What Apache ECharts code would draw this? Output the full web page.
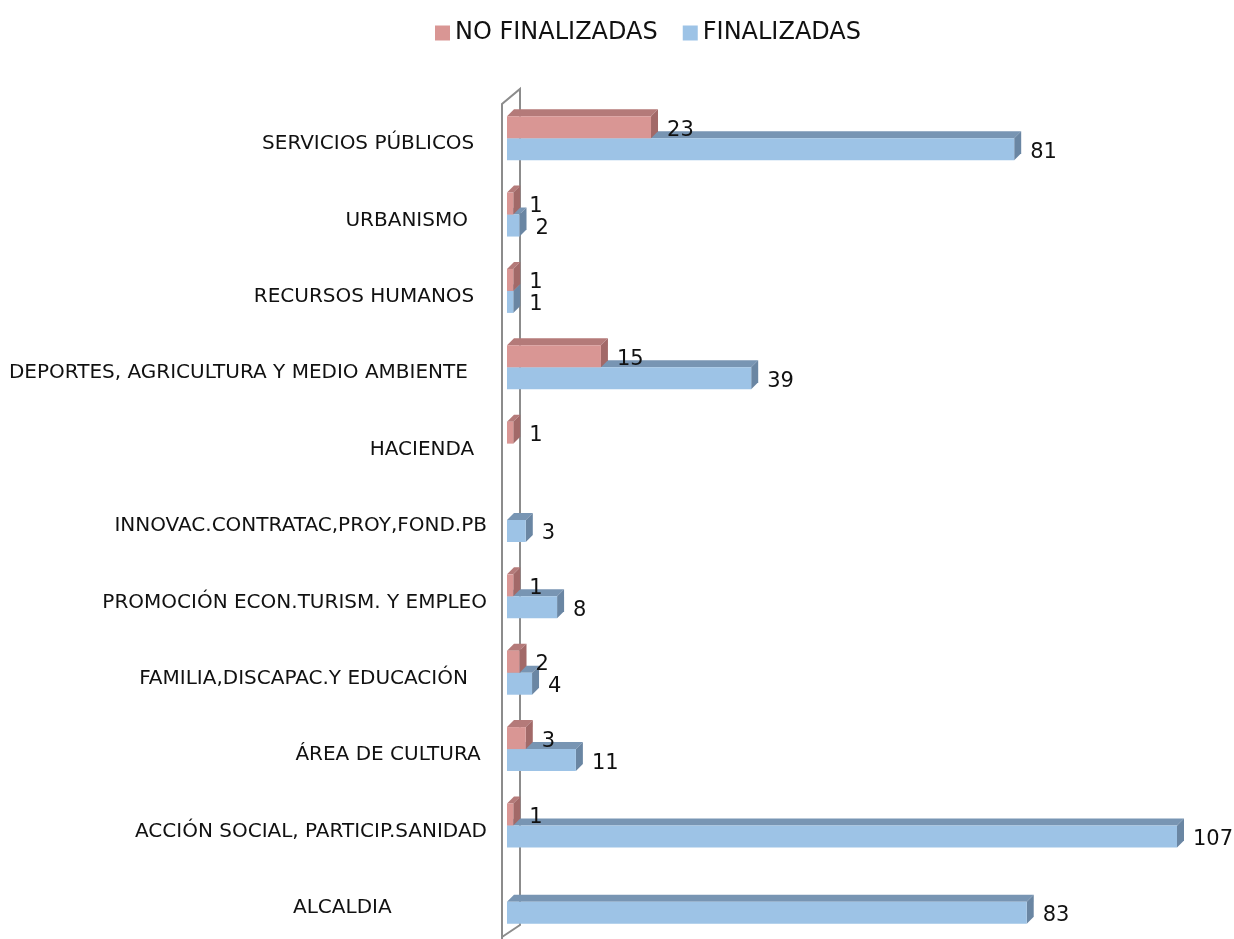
<!DOCTYPE html>
<html>
<head>
<meta charset="utf-8">
<title>Finalizadas / No finalizadas</title>
<script src="https://cdn.jsdelivr.net/npm/echarts@6/dist/echarts.min.js"></script>
<style>
    html, body { margin: 0; padding: 0; background: #fff; }
    #main { width: 1234px; height: 939px; }
</style>
</head>
<body>
<div id="main"></div>
<script>
/*datos start*/
// categorias de arriba a abajo (con los espacios finales del original)
let categorias = [
    'SERVICIOS PÚBLICOS  ',
    'URBANISMO   ',
    'RECURSOS HUMANOS  ',
    'DEPORTES, AGRICULTURA Y MEDIO AMBIENTE   ',
    'HACIENDA  ',
    'INNOVAC.CONTRATAC,PROY,FOND.PB',
    'PROMOCIÓN ECON.TURISM. Y EMPLEO',
    'FAMILIA,DISCAPAC.Y EDUCACIÓN   ',
    'ÁREA DE CULTURA ',
    'ACCIÓN SOCIAL, PARTICIP.SANIDAD',
    'ALCALDIA               ',
];
let noFinalizadas = [23, 1, 1, 15, 1, 0, 1, 2, 3, 1, 0];
let finalizadas = [81, 2, 1, 39, 0, 3, 8, 4, 11, 107, 83];
let series = ['NO FINALIZADAS', 'FINALIZADAS'];
let ejeMax = 107;
/*datos end*/

const FONT = '"DejaVu Sans", sans-serif';
const GRID_LEFT = 507, GRID_TOP = 106, GRID_H = 840;
const DEPTH = 7;     // profundidad del efecto 3D
const BAR_H = 22;

let rojo = {front: '#D99694', top: '#B47A79', side: '#A26968'};
let azul = {front: '#9DC3E6', top: '#7895B3', side: '#6A86A3'};

// barra con cara frontal, superior y lateral
function renderBar3d(colores, arriba) {
    return function (params, api) {
        let valor = api.value(0);
        if (!valor) return null;
        let base = api.coord([0, api.value(1)]);
        let fin = api.coord([valor, api.value(1)]);
        let x0 = base[0], x1 = fin[0];
        let yc = base[1] - 6;
        let y0 = arriba ? yc - BAR_H : yc;
        let y1 = y0 + BAR_H;
        let d = DEPTH;
        return {
            type: 'group',
            children: [
                {
                    type: 'polygon',
                    shape: {points: [[x0, y0], [x1, y0], [x1 + d, y0 - d], [x0 + d, y0 - d]]},
                    style: {fill: colores.top}
                },
                {
                    type: 'polygon',
                    shape: {points: [[x1, y0], [x1 + d, y0 - d], [x1 + d, y1 - d], [x1, y1]]},
                    style: {fill: colores.side}
                },
                {
                    type: 'rect',
                    shape: {x: x0, y: y0, width: x1 - x0, height: BAR_H},
                    style: {fill: colores.front}
                },
                {
                    type: 'text',
                    x: x1 + d + 9,
                    y: (y0 + y1) / 2 + 3,
                    style: {
                        text: String(valor),
                        fill: '#111',
                        fontSize: 21,
                        fontFamily: FONT,
                        verticalAlign: 'middle'
                    }
                }
            ]
        };
    };
}

let chart = echarts.init(document.getElementById('main'));

let option = {
    animation: false,
    legend: {
        data: series,
        top: 16,
        left: 430,
        icon: 'rect',
        itemWidth: 15,
        itemHeight: 15,
        itemGap: 25,
        textStyle: {fontSize: 24, fontFamily: FONT, color: '#111'}
    },
    grid: {
        left: GRID_LEFT,
        top: GRID_TOP,
        width: 670,
        height: GRID_H,
        outerBoundsMode: 'none'
    },
    xAxis: {
        type: 'value',
        min: 0,
        max: ejeMax,
        show: false
    },
    yAxis: {
        type: 'category',
        inverse: true,
        data: categorias,
        axisLine: {show: false},
        axisTick: {show: false},
        axisLabel: {margin: 20, fontSize: 20, fontFamily: FONT, color: '#111'}
    },
    graphic: [
        {
            // pared lateral del eje
            type: 'polyline',
            z: 0,
            shape: {
                points: [
                    [GRID_LEFT - 5, 939], [GRID_LEFT - 5, 104], [GRID_LEFT + 13, 89],
                    [GRID_LEFT + 13, 925], [GRID_LEFT - 5, 937]
                ]
            },
            style: {stroke: '#8c8c8c', lineWidth: 2, fill: null}
        }
    ],
    series: [
        {
            name: series[1],
            type: 'custom',
            z: 2,
            itemStyle: {color: azul.front},
            renderItem: renderBar3d(azul, false),
            encode: {x: 0, y: 1},
            data: finalizadas.map((v, i) => [v, i])
        },
        {
            name: series[0],
            type: 'custom',
            z: 3,
            itemStyle: {color: rojo.front},
            renderItem: renderBar3d(rojo, true),
            encode: {x: 0, y: 1},
            data: noFinalizadas.map((v, i) => [v, i])
        }
    ]
};

chart.setOption(option);
</script>
</body>
</html>
